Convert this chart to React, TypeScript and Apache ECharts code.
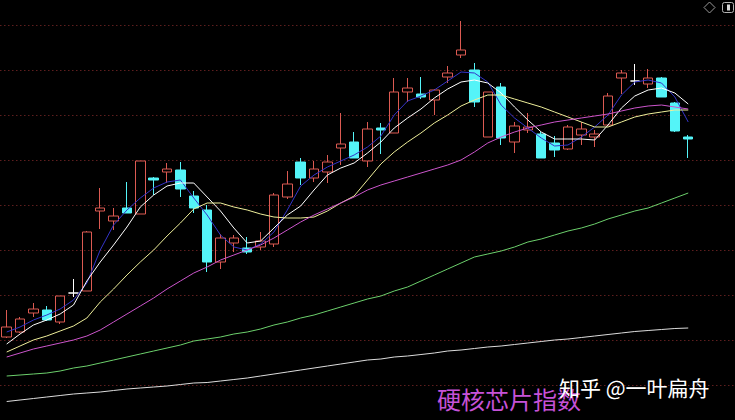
import { useEffect, useRef } from "react";
import * as echarts from "echarts";

// 52 trading days shown + 3 empty slots on the right
const categories: string[] = Array.from({ length: 55 }, (_, i) => `D${i + 1}`);

const opens = [1038, 1043, 1062, 1065, 1053, 1082, 1084, 1164, 1154, 1167, 1161, 1197, 1203, 1205, 1179, 1165, 1113, 1132, 1127, 1128, 1131, 1178, 1213, 1197, 1203, 1227, 1233, 1214, 1247, 1242, 1283, 1281, 1275, 1298, 1320, 1305, 1238, 1288, 1233, 1245, 1241, 1232, 1226, 1240, 1238, 1250, 1297, 1294, 1291, 1297, 1272, 1238];
const closes = [1048, 1056, 1066, 1055, 1079, 1082, 1143, 1167, 1159, 1162, 1214, 1195, 1206, 1186, 1167, 1113, 1137, 1137, 1123, 1134, 1180, 1191, 1197, 1206, 1213, 1231, 1217, 1246, 1245, 1283, 1287, 1278, 1285, 1302, 1325, 1273, 1283, 1237, 1249, 1248, 1217, 1225, 1248, 1246, 1241, 1279, 1302, 1294, 1297, 1278, 1244, 1236];
const lows = [1037, 1042, 1058, 1054, 1051, 1078, 1084, 1146, 1145, 1162, 1161, 1180, 1192, 1178, 1162, 1103, 1106, 1123, 1121, 1125, 1128, 1176, 1190, 1193, 1192, 1210, 1217, 1208, 1221, 1242, 1273, 1276, 1260, 1292, 1317, 1268, 1238, 1230, 1222, 1242, 1217, 1218, 1225, 1230, 1228, 1250, 1281, 1290, 1287, 1278, 1243, 1217];
const highs = [1065, 1058, 1072, 1069, 1079, 1096, 1144, 1187, 1167, 1193, 1214, 1198, 1212, 1213, 1184, 1170, 1141, 1140, 1138, 1143, 1182, 1204, 1217, 1214, 1220, 1262, 1243, 1253, 1252, 1297, 1297, 1298, 1286, 1309, 1354, 1312, 1283, 1292, 1253, 1262, 1243, 1239, 1250, 1253, 1245, 1282, 1305, 1311, 1306, 1298, 1273, 1240];

const ma5 = [1043, 1048, 1055, 1060, 1066, 1075, 1092, 1125, 1150, 1165, 1177, 1187, 1193, 1195, 1177, 1160, 1140, 1128, 1125, 1131, 1143, 1165, 1189, 1200, 1208, 1214, 1220, 1228, 1239, 1260, 1274, 1279, 1285, 1294, 1303, 1302, 1293, 1270, 1257, 1247, 1237, 1229, 1230, 1238, 1248, 1260, 1280, 1293, 1295, 1292, 1278, 1253];
const ma10 = [1031, 1041, 1050, 1055, 1061, 1070, 1094, 1113, 1130, 1148, 1168, 1180, 1189, 1192, 1192, 1178, 1164, 1147, 1132, 1134, 1147, 1160, 1169, 1185, 1200, 1207, 1212, 1222, 1233, 1247, 1257, 1266, 1277, 1286, 1293, 1295, 1292, 1282, 1268, 1255, 1243, 1236, 1236, 1236, 1235, 1250, 1267, 1279, 1285, 1287, 1282, 1271];
const ma20 = [1023, 1029, 1035, 1039, 1044, 1049, 1057, 1073, 1086, 1100, 1113, 1125, 1139, 1152, 1166, 1172, 1172, 1168, 1165, 1161, 1158, 1157, 1157, 1158, 1164, 1172, 1179, 1195, 1211, 1223, 1233, 1242, 1252, 1260, 1269, 1275, 1280, 1280, 1276, 1272, 1268, 1263, 1258, 1253, 1248, 1248, 1253, 1258, 1261, 1263, 1265, 1265];
const ma30 = [1018, 1022, 1026, 1029, 1032, 1035, 1039, 1045, 1053, 1061, 1069, 1077, 1086, 1094, 1102, 1108, 1115, 1120, 1125, 1130, 1137, 1145, 1153, 1160, 1166, 1172, 1178, 1185, 1190, 1194, 1198, 1202, 1206, 1210, 1215, 1223, 1232, 1238, 1243, 1247, 1250, 1253, 1255, 1257, 1259, 1261, 1264, 1267, 1269, 1270, 1268, 1266];
const ma60 = [999, 1000, 1001, 1002, 1004, 1007, 1009, 1012, 1015, 1018, 1021, 1024, 1027, 1030, 1034, 1036, 1038, 1041, 1043, 1046, 1050, 1053, 1057, 1060, 1064, 1068, 1072, 1076, 1079, 1084, 1088, 1094, 1100, 1106, 1112, 1118, 1121, 1124, 1128, 1133, 1136, 1140, 1144, 1147, 1151, 1156, 1160, 1164, 1167, 1172, 1177, 1182];
const ma120 = [973.5, 975, 976.5, 978, 979.5, 981, 982, 983, 984.5, 986, 987, 988, 989, 990.5, 992, 992.5, 994, 995.5, 997, 999, 1001, 1003, 1005, 1007, 1009, 1011, 1013, 1015, 1016, 1018, 1019, 1020.5, 1022, 1024, 1025, 1026.5, 1028, 1029, 1030.5, 1032, 1033.5, 1035, 1036, 1037.5, 1039, 1040.5, 1042, 1043.5, 1044.5, 1045.5, 1046.5, 1047];

const yMin = 990;
const yMax = 1350;
const yStep = 45;

const titleText = "硬核芯片指数";
const watermarkText = "知乎 @一叶扁舟";

export default function App() {
  const ref = useRef<HTMLDivElement>(null);

  useEffect(() => {
    if (!ref.current) return;
    const chart = echarts.init(ref.current, null, { renderer: "svg" });
    const candleData = opens.map((o, i) => [o, closes[i], lows[i], highs[i]]);
    const mkLine = (name: string, data: number[], color: string) => ({
      type: "line",
      name,
      data,
      symbol: "none",
      showSymbol: false,
      clip: false,
      silent: true,
      z: 3,
      lineStyle: { color, width: 1 },
      emphasis: { disabled: true },
    });
    chart.setOption({
      animation: false,
      backgroundColor: "#000000",
      grid: { left: 0, right: 0, top: 25, bottom: 35 },
      xAxis: {
        type: "category",
        data: categories,
        boundaryGap: true,
        axisLine: { show: false },
        axisTick: { show: false },
        axisLabel: { show: false },
        splitLine: { show: false },
      },
      yAxis: {
        type: "value",
        min: yMin,
        max: yMax,
        interval: yStep,
        axisLine: { show: false },
        axisTick: { show: false },
        axisLabel: { show: false },
        splitLine: { show: true, lineStyle: { color: "#5e1e1e", type: [1.5, 2.5], width: 1 } },
      },
      series: [
        {
          type: "candlestick",
          data: candleData,
          barWidth: 10,
          clip: false,
          silent: true,
          z: 2,
          itemStyle: {
            color: "rgba(0,0,0,0)",
            color0: "#54f4f8",
            borderColor: "#dc5a52",
            borderColor0: "#54f4f8",
            borderColorDoji: "#ffffff",
            borderWidth: 1,
          },
        },
        mkLine("MA5", ma5, "#3434c8"),
        mkLine("MA10", ma10, "#ffffff"),
        mkLine("MA20", ma20, "#eeee9a"),
        mkLine("MA30", ma30, "#cc55cc"),
        mkLine("MA60", ma60, "#6cd06c"),
        mkLine("MA120", ma120, "#dcdcdc"),
      ],
      graphic: [
        {
          type: "polygon",
          shape: { points: [[709.5, 2], [715, 7.5], [709.5, 13], [704, 7.5]] },
          style: { fill: "none", stroke: "#9a9a9a", lineWidth: 1 },
        },
        {
          type: "rect",
          shape: { x: 722.5, y: 2.5, width: 11, height: 10, r: 2 },
          style: { fill: "none", stroke: "#b4b4b4", lineWidth: 1 },
        },
        {
          type: "rect",
          shape: { x: 727, y: 4.5, width: 3, height: 6 },
          style: { fill: "#d8d8d8" },
        },
        {
          type: "text",
          x: 437,
          y: 398,
          z: 10,
          style: {
            text: titleText,
            fontSize: 24,
            fontFamily: '"Noto Sans CJK SC", sans-serif',
            fill: "#c652d8",
            verticalAlign: "middle",
            align: "left",
          },
        },
        {
          type: "text",
          x: 559,
          y: 387,
          z: 11,
          style: {
            text: watermarkText,
            fontSize: 21,
            fontFamily: '"Noto Sans CJK SC", sans-serif',
            fill: "#ffffff",
            verticalAlign: "middle",
            align: "left",
            shadowColor: "rgba(0,0,0,0.6)",
            shadowBlur: 2,
          },
        },
      ],
    });
    return () => chart.dispose();
  }, []);

  return (
    <div
      ref={ref}
      style={{ position: "fixed", left: 0, top: 0, width: 735, height: 420, background: "#000" }}
    />
  );
}
